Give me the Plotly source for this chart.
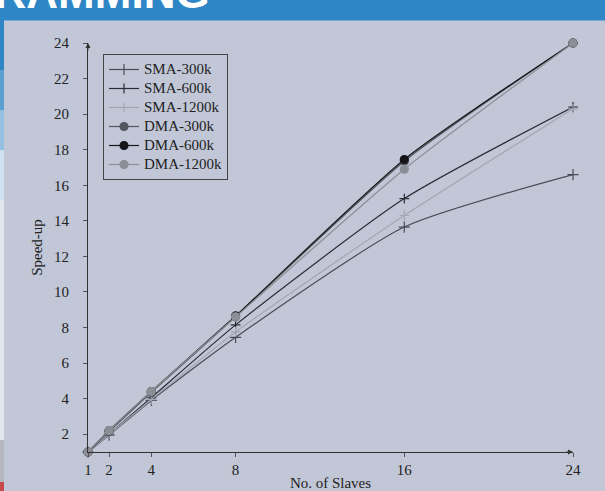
import plotly.graph_objects as go

slaves = [1, 2, 4, 8, 16, 24]
sma_300k = [1, 1.95, 3.9, 7.45, 13.65, 16.6]
sma_600k = [1, 2.0, 4.05, 8.15, 15.25, 20.4]
sma_1200k = [1, 2.0, 3.95, 7.75, 14.3, 20.3]
dma_300k = [1, 2.15, 4.35, 8.6, 17.35, 24.0]
dma_600k = [1, 2.2, 4.4, 8.65, 17.45, 24.0]
dma_1200k = [1, 2.2, 4.4, 8.6, 16.9, 24.0]

x_ticks = [1, 2, 4, 8, 16, 24]
y_ticks = [2, 4, 6, 8, 10, 12, 14, 16, 18, 20, 22, 24]

BG = "#c1c7d7"
SERIF = "Liberation Serif"

series = [
    ("SMA-300k", sma_300k, "#4a4c58", "cross-thin", 8),
    ("SMA-600k", sma_600k, "#2a2c36", "cross-thin", 7),
    ("SMA-1200k", sma_1200k, "#a2a7b4", "cross-thin", 7),
    ("DMA-300k", dma_300k, "#55575f", "circle", 8),
    ("DMA-600k", dma_600k, "#16161a", "circle", 8),
    ("DMA-1200k", dma_1200k, "#8c8e96", "circle", 8),
]

fig = go.Figure()
for name, vals, col, sym, sz in series:
    fig.add_trace(go.Scatter(
        x=slaves, y=vals, name='<span style="font-size:15px">%s</span>' % name,
        mode="lines+markers",
        line=dict(color=col, width=1.2, shape="spline", smoothing=0.6),
        marker=dict(symbol=sym, size=sz, color=col, line=dict(color=col, width=1.2)),
        cliponaxis=False,
    ))

L, R, T, B = 88, 32, 43, 39
W, H = 605, 491
pw, ph = W - L - R, H - T - B

def px(x):
    return (x - L) / pw

def py(y):
    return (H - B - y) / ph

shapes = [
    dict(type="rect", xref="paper", yref="paper", x0=px(-5), x1=px(610), y0=py(20.5), y1=py(-5),
         fillcolor="#2e86c6", line=dict(width=0), layer="below"),
]
strip = [(-5, 70, "#2e86c6"), (70, 110, "#5c9fd2"), (110, 150, "#94c0e2"), (150, 200, "#cfe0f0"),
         (200, 440, "#e2e6ee"), (440, 482, "#b4b6c0"), (482, 496, "#c44a4a")]
for y0, y1, c in strip:
    shapes.append(dict(type="rect", xref="paper", yref="paper", x0=px(-5), x1=px(4),
                       y0=py(y1), y1=py(y0), fillcolor=c, line=dict(width=0), layer="below"))

annotations = [
    dict(x=24, y=1, ax=23.6, ay=1, xref="x", yref="y", axref="x", ayref="y", text="",
         showarrow=True, arrowhead=2, arrowsize=1, arrowwidth=1, arrowcolor="#333"),
    dict(x=1, y=24, ax=1, ay=23.5, xref="x", yref="y", axref="x", ayref="y", text="",
         showarrow=True, arrowhead=2, arrowsize=1, arrowwidth=1, arrowcolor="#333"),
    dict(x=px(212), y=py(18.5), xref="paper", yref="paper", xanchor="right", yanchor="bottom",
         text="<b>PROGRAMMING</b>", showarrow=False,
         font=dict(family="Liberation Sans", size=44, color="white")),
]

fig.update_layout(
    width=W, height=H,
    margin=dict(l=L, r=R, t=T, b=B, autoexpand=False),
    paper_bgcolor=BG, plot_bgcolor=BG,
    showlegend=True,
    legend=dict(x=px(103), y=py(54), xanchor="left", yanchor="top",
                bgcolor="rgba(0,0,0,0)", bordercolor="#444", borderwidth=1,
                font=dict(family=SERIF, size=12, color="#222"),
                itemwidth=30, tracegroupgap=0),
    shapes=shapes,
    annotations=annotations,
    font=dict(family=SERIF, size=15, color="#222"),
)
fig.update_xaxes(
    range=[1, 24], tickmode="array", tickvals=x_ticks, ticktext=[str(v) for v in x_ticks],
    showgrid=False, zeroline=False, showline=True, linecolor="#333", linewidth=1,
    ticks="outside", ticklen=4, tickcolor="#555", automargin=True,
    tickfont=dict(family=SERIF, size=15, color="#222"),
    title=dict(text="No. of Slaves", standoff=7, font=dict(family=SERIF, size=15, color="#222")),
)
fig.update_yaxes(
    range=[1, 24], tickmode="array", tickvals=y_ticks, ticktext=[str(v) for v in y_ticks],
    showgrid=False, zeroline=False, showline=True, linecolor="#333", linewidth=1,
    ticks="outside", ticklen=4, tickcolor="#555", ticklabelstandoff=11, automargin=False,
    tickfont=dict(family=SERIF, size=15, color="#222"),
    title=dict(text="Speed-up", standoff=7, font=dict(family=SERIF, size=15, color="#222")),
)

fig.write_html("out.html", config={"displayModeBar": False},
               post_script="document.body.style.margin='0px';")
